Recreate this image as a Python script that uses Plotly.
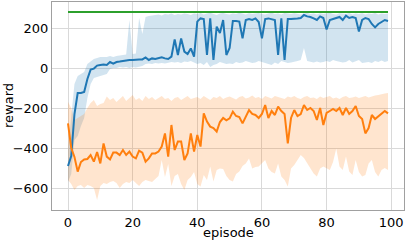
import plotly.graph_objects as go

episodes = list(range(100))

blue_mean = [-490, -440, -230, -125, -125, -120, -55, -8, -3, 12,
             15, 18, 15, 30, 22, 30, 32, 35, 36, 40,
             40, 43, 43, 43, 53, 40, 48, 45, 48, 53,
             48, 45, 57, 143, 65, 148, 82, 70, 98, 57,
             232, 248, 245, 65, 248, 40, 207, 175, 240, 65,
             100, 235, 235, 232, 148, 240, 245, 240, 248, 230,
             148, 245, 248, 245, 240, 65, 248, 40, 245, 245,
             248, 248, 250, 265, 258, 255, 248, 240, 258, 250,
             193, 240, 245, 250, 255, 240, 262, 250, 255, 250,
             182, 240, 250, 245, 220, 203, 220, 230, 240, 235]

blue_upper = [-410, -250, -80, -40, -30, -20, 20, 35, 45, 50,
              55, 55, 55, 60, 55, 60, 62, 65, 68, 240,
              70, 72, 250, 170, 255, 260, 262, 265, 268, 262,
              270, 268, 272, 265, 270, 268, 272, 270, 265, 272,
              270, 275, 268, 272, 276, 270, 265, 272, 275, 270,
              268, 272, 270, 276, 272, 268, 274, 270, 272, 275,
              270, 268, 273, 276, 270, 272, 268, 275, 272, 270,
              274, 270, 268, 272, 276, 270, 272, 268, 274, 270,
              272, 276, 270, 268, 274, 272, 270, 275, 268, 272,
              270, 274, 268, 272, 270, 275, 268, 272, 270, 272]

blue_lower = [-570, -530, -360, -340, -290, -250, -150, -80, -50, -45,
              -40, -35, -30, -5, 0, 0, 5, 2, 5, 0,
              5, 3, 8, 10, 20, 22, 20, 25, 22, 25,
              22, 28, 30, 28, 30, 25, 32, 30, 35, 28,
              20, 25, 15, 30, 5, 15, 20, 30, 25, 20,
              22, 20, 30, 25, 28, 35, 30, 25, 28, 35,
              30, 25, 20, 15, 28, 20, 35, 30, 25, 28,
              30, 35, 40, 100, 35, 30, 28, 32, 28, 30,
              35, 30, 40, 35, 30, 28, 30, 40, 28, 35,
              40, 25, 28, 30, 25, 35, 30, 38, 30, 35]

orange_mean = [-277, -400, -445, -518, -470, -457, -455, -435, -468, -420,
               -477, -377, -443, -457, -423, -423, -435, -410, -435, -418,
               -443, -452, -413, -423, -468, -452, -427, -427, -418, -393,
               -327, -443, -285, -410, -368, -368, -460, -427, -327, -418,
               -335, -393, -227, -268, -293, -300, -318, -270, -250, -262,
               -252, -218, -240, -245, -277, -240, -210, -230, -235, -250,
               -230, -185, -250, -215, -235, -193, -215, -230, -377, -250,
               -210, -240, -230, -185, -210, -200, -215, -260, -200, -285,
               -225, -215, -205, -215, -200, -235, -200, -230, -215, -190,
               -240, -255, -327, -300, -235, -255, -240, -225, -215, -227]

orange_upper = [-170, -200, -260, -250, -240, -230, -200, -175, -160, -190,
                -180, -175, -143, -160, -150, -170, -155, -140, -165, -150,
                -135, -160, -150, -165, -140, -155, -145, -160, -150, -140,
                -155, -150, -165, -150, -145, -160, -150, -140, -155, -150,
                -145, -155, -140, -150, -160, -145, -150, -140, -155, -148,
                -142, -150, -158, -145, -140, -152, -148, -138, -150, -145,
                -155, -140, -148, -152, -140, -145, -150, -155, -142, -148,
                -140, -150, -155, -145, -140, -150, -148, -155, -142, -150,
                -145, -140, -152, -148, -155, -145, -140, -150, -148, -142,
                -150, -145, -140, -148, -142, -138, -135, -130, -128, -125]

orange_lower = [-560, -580, -610, -590, -585, -600, -585, -590, -600, -660,
                -590, -575, -580, -570, -565, -575, -600, -580, -570, -575,
                -560, -575, -590, -570, -560, -565, -570, -555, -540, -460,
                -545, -480, -590, -540, -530, -580, -610, -560, -545, -520,
                -580, -593, -535, -560, -493, -568, -510, -502, -505, -540,
                -560, -568, -530, -518, -490, -477, -452, -502, -495, -493,
                -477, -460, -502, -520, -527, -477, -543, -560, -593, -502,
                -485, -460, -435, -450, -477, -500, -527, -543, -502, -493,
                -502, -510, -470, -402, -493, -510, -443, -518, -535, -460,
                -520, -543, -535, -477, -460, -520, -543, -510, -500, -510]

target = [280] * 100

x_ticks = [0, 20, 40, 60, 80, 100]
y_ticks = [-600, -400, -200, 0, 200]

BLUE = "#1f77b4"
ORANGE = "#ff7f0e"
GREEN = "#2ca02c"

fig = go.Figure()

def band(upper, lower, fill):
    fig.add_trace(go.Scatter(x=episodes, y=upper, mode="lines",
                             line=dict(width=0), showlegend=False, hoverinfo="skip"))
    fig.add_trace(go.Scatter(x=episodes, y=lower, mode="lines",
                             line=dict(width=0), fill="tonexty", fillcolor=fill,
                             showlegend=False, hoverinfo="skip"))

band(blue_upper, blue_lower, "rgba(31,119,180,0.2)")
band(orange_upper, orange_lower, "rgba(255,127,14,0.2)")

fig.add_trace(go.Scatter(x=episodes, y=blue_mean, mode="lines",
                         line=dict(color=BLUE, width=2), showlegend=False))
fig.add_trace(go.Scatter(x=episodes, y=orange_mean, mode="lines",
                         line=dict(color=ORANGE, width=2), showlegend=False))
fig.add_trace(go.Scatter(x=episodes, y=target, mode="lines",
                         line=dict(color=GREEN, width=2), showlegend=False))

axis_common = dict(showgrid=True, gridcolor="#d9d9d9", gridwidth=1,
                   zeroline=False, showline=True, linecolor="#a0a0a0", linewidth=1,
                   mirror=True, ticks="", automargin=False,
                   tickfont=dict(family="DejaVu Sans", size=13, color="black"))

fig.update_layout(
    width=407, height=242,
    margin=dict(l=52, r=3, t=2, b=32),
    paper_bgcolor="white", plot_bgcolor="white",
    font=dict(family="DejaVu Sans", size=13, color="black"),
    xaxis=dict(range=[-4.95, 103.95], tickvals=x_ticks, **axis_common),
    yaxis=dict(range=[-710, 330], tickvals=y_ticks, **axis_common),
    annotations=[
        dict(text="episode", xref="paper", yref="paper", x=0.5, y=-0.11,
             xanchor="center", yanchor="middle", showarrow=False,
             font=dict(family="DejaVu Sans", size=13, color="black")),
        dict(text="reward", xref="paper", yref="paper", x=-0.125, y=0.5,
             xanchor="center", yanchor="middle", textangle=-90, showarrow=False,
             font=dict(family="DejaVu Sans", size=13, color="black")),
    ],
)

fig.write_html("out.html", config={"displayModeBar": False},
               post_script="document.body.style.margin='0';")
